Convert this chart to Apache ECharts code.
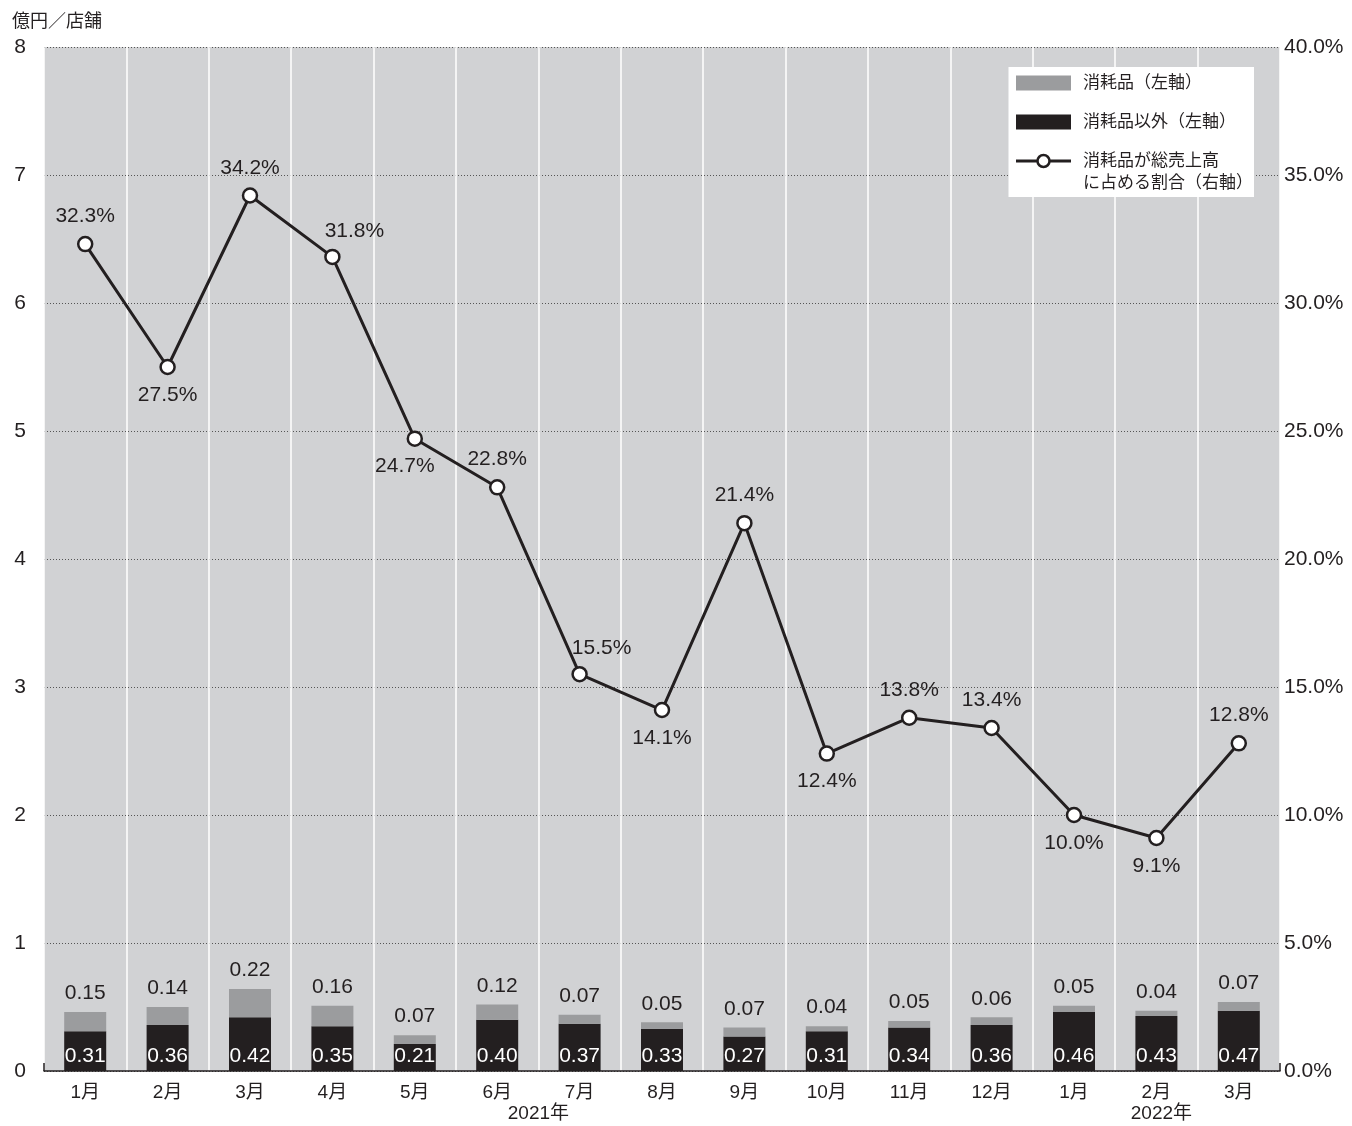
<!DOCTYPE html>
<html><head><meta charset="utf-8">
<script src="https://cdn.jsdelivr.net/npm/echarts@6/dist/echarts.min.js"></script>
<style>html,body{margin:0;padding:0;background:#fff}#c{width:1352px;height:1126px}</style>
</head><body><div id="c"></div>
<script>
const categories = ['1月','2月','3月','4月','5月','6月','7月','8月','9月','10月','11月','12月','1月','2月','3月'];
const nonConsumables = [0.31,0.36,0.42,0.35,0.21,0.40,0.37,0.33,0.27,0.31,0.34,0.36,0.46,0.43,0.47];
const consumables = [0.15,0.14,0.22,0.16,0.07,0.12,0.07,0.05,0.07,0.04,0.05,0.06,0.05,0.04,0.07];
const ratio = [32.3,27.5,34.2,31.8,24.7,22.8,15.5,14.1,21.4,12.4,13.8,13.4,10.0,9.1,12.8];
const ratioLabelPos = ['top','bottom','top','topRight','bottomLeft','top','topRight','bottom','top','bottom','top','top','bottom','bottom','top'];
const yearLabels = [{text:'2021年', after:5}, {text:'2022年', at:13}];
const seriesNames = ['消耗品（左軸）','消耗品以外（左軸）','消耗品が総売上高に占める割合（右軸）'];
const lineLegendLines = ['消耗品が総売上高','に占める割合（右軸）'];

const FONT = '"Liberation Sans", "Noto Sans CJK JP", sans-serif';
const TXT = '#231f20';
const LEG_PAD = 7;
const chart = echarts.init(document.getElementById('c'));

const lineData = ratio.map((v,i)=>{
  const p = ratioLabelPos[i];
  let label = {position: 'top'};
  if (p==='bottom') label = {position:'bottom'};
  if (p==='topRight') label = {position:'top', offset:[22,2]};
  if (p==='bottomLeft') label = {position:'bottom', offset:[-10,0]};
  return {value:v, label};
});

chart.setOption({
  animation:false,
  textStyle:{fontFamily:FONT},
  grid:{left:44, right:72, top:47, bottom:55, show:true, backgroundColor:'#d1d2d4', borderWidth:0},
  legend:{
    data:[
      {name:seriesNames[0], icon:'rect'},
      {name:seriesNames[1], icon:'rect'},
      {name:seriesNames[2], lineStyle:{width:3, color:'#231f20'}, itemStyle:{color:'#fff', borderColor:'#231f20', borderWidth:2.5}}
    ],
    formatter: n => n===seriesNames[2] ? lineLegendLines[0] : n,
    orient:'vertical', right:98, top:67, backgroundColor:'#fff',
    padding:[5,18,25,6], itemGap:17, itemWidth:55, itemHeight:15,
    textStyle:{fontSize:17, color:TXT, fontFamily:FONT, lineHeight:22, padding:[0,0,0,LEG_PAD]},
    inactiveColor:'#ccc'
  },
  xAxis:{
    type:'category', data:categories,
    axisLine:{lineStyle:{color:TXT, width:1.5}},
    axisTick:{show:false},
    axisLabel:{fontSize:19, color:TXT, margin:12, fontFamily:FONT},
    splitLine:{show:true, interval:0, lineStyle:{color:'#ffffff', width:1.5}}
  },
  yAxis:[{
    type:'value', min:0, max:8, interval:1,
    name:'億円／店舗', nameLocation:'end', nameGap:16,
    nameTextStyle:{fontSize:18, color:TXT, align:'left', padding:[0,0,0,-32], fontFamily:FONT},
    axisLine:{show:false}, axisTick:{show:false},
    axisLabel:{fontSize:21, color:TXT, margin:18, fontFamily:FONT},
    splitLine:{show:true, lineStyle:{color:'#555', width:1, type:[1,2]}}
  },{
    type:'value', min:0, max:40, interval:5, position:'right',
    axisLine:{show:false}, axisTick:{show:false},
    axisLabel:{fontSize:21, color:TXT, margin:4, fontFamily:FONT, formatter:v=>v.toFixed(1)+'%'},
    splitLine:{show:false}
  }],
  series:[
    {name:seriesNames[1], type:'bar', stack:'a', data:nonConsumables, barWidth:42,
     itemStyle:{color:'#231f20'},
     label:{show:true, position:'insideBottom', distance:4, color:'#fff', fontSize:21, fontFamily:FONT, formatter:p=>p.value.toFixed(2)}},
    {name:seriesNames[0], type:'bar', stack:'a', data:consumables, barWidth:42,
     itemStyle:{color:'#9b9c9e'},
     label:{show:true, position:'top', distance:8, color:TXT, fontSize:21, fontFamily:FONT, formatter:p=>p.value.toFixed(2)}},
    {name:seriesNames[2], type:'line', yAxisIndex:1, data:lineData,
     symbol:'circle', symbolSize:14,
     lineStyle:{color:'#231f20', width:3},
     itemStyle:{color:'#fff', borderColor:'#231f20', borderWidth:2.5},
     label:{show:true, distance:9, color:TXT, fontSize:21, fontFamily:FONT, formatter:p=>p.value.toFixed(1)+'%'},
     z:5}
  ]
});

const yPix = chart.convertToPixel({yAxisIndex:0}, 0);
const g = yearLabels.map(y=>{
  let x;
  if (y.after!==undefined) x = (chart.convertToPixel({xAxisIndex:0}, y.after) + chart.convertToPixel({xAxisIndex:0}, y.after+1))/2;
  else x = chart.convertToPixel({xAxisIndex:0}, y.at) + 5;
  return {type:'text', x:x, y:yPix+43, style:{text:y.text, fontSize:19, fill:TXT, align:'center', verticalAlign:'middle', fontFamily:FONT}};
});
const gl = chart.convertToPixel({xAxisIndex:0}, 0) - 41.2;
const gr = chart.convertToPixel({xAxisIndex:0}, 14) + 41.2;
g.push({type:'line', shape:{x1:gl, y1:yPix-8, x2:gl, y2:yPix}, style:{stroke:TXT, lineWidth:1.5}});
g.push({type:'line', shape:{x1:gr, y1:yPix-8, x2:gr, y2:yPix}, style:{stroke:TXT, lineWidth:1.5}});
chart.setOption({graphic:g});

// second line of the line-series legend text, placed under its first line
const lv = chart.getModel().getComponent('legend');
const lgView = chart.getViewOfComponentModel(lv);
let firstLineRect = null;
lgView.group.traverse(el=>{
  if (el.type==='text' && el.style && el.style.text===lineLegendLines[0]) {
    const r = el.getBoundingRect().clone();
    r.applyTransform(el.getComputedTransform());
    firstLineRect = r;
  }
});
if (firstLineRect) {
  g.push({type:'text', z:100, x:firstLineRect.x + LEG_PAD, y:firstLineRect.y+firstLineRect.height+11,
    style:{text:lineLegendLines[1], fontSize:17, fill:TXT, fontFamily:FONT, verticalAlign:'middle', align:'left'}});
  chart.setOption({graphic:g});
}
</script></body></html>
